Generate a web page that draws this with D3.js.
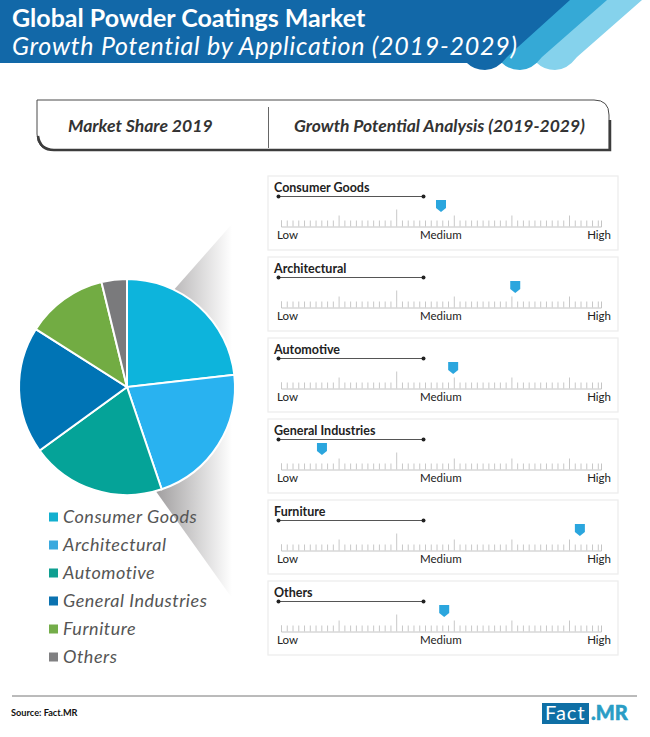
<!DOCTYPE html>
<html>
<head>
<meta charset="utf-8">
<script src="https://cdn.jsdelivr.net/npm/d3@7"></script>
<style>
    html, body { margin: 0; padding: 0; background: #fff; }
    svg { display: block; font-family: Lato, sans-serif; }
</style>
</head>
<body>
<div id="svgcontainer"></div>
<script>
let segments = [
    {name: "Consumer Goods", share: 23.2, growth: 50, color: "#0db4dc", swatch: "#12afcf"},
    {name: "Architectural", share: 21.6, growth: 73.2, color: "#29b2f0", swatch: "#3aa9de"},
    {name: "Automotive", share: 20.2, growth: 53.8, color: "#05a398", swatch: "#0f9f91"},
    {name: "General Industries", share: 19, growth: 12.8, color: "#0074b5", swatch: "#0b72b0"},
    {name: "Furniture", share: 12.2, growth: 93.4, color: "#72ac43", swatch: "#74ad4a"},
    {name: "Others", share: 3.8, growth: 51, color: "#7a7a7c", swatch: "#808082"}
];

let svg = d3.select("#svgcontainer")
    .append("svg")
    .attr("width", 650)
    .attr("height", 737);

let defs = svg.append("defs");
let addFade = (id, x1, x2, start) => {
    let grad = defs.append("linearGradient")
        .attr("id", id)
        .attr("gradientUnits", "userSpaceOnUse")
        .attr("x1", x1).attr("x2", x2)
        .attr("y1", 0).attr("y2", 0);
    grad.append("stop").attr("offset", 0).attr("stop-color", start);
    grad.append("stop").attr("offset", 1).attr("stop-color", "#ffffff");
}
addFade("fadeTop", 172, 232, "#b9b7b8");
addFade("fadeBottom", 158, 232, "#a3a1a2");

// header bands, back to front
let bandPath = (top, lobe) => `M0,0 L${top},0 L${lobe + 19},57 Q${lobe + 9},70 ${lobe - 3},70 Q${lobe - 14},70 ${lobe - 21},63 L0,63 Z`;
svg.append("path").attr("d", bandPath(642, 558)).attr("fill", "#85d2ec");
svg.append("path").attr("d", bandPath(607, 523)).attr("fill", "#35a9d6");
svg.append("path").attr("d", bandPath(570, 488)).attr("fill", "#1268a8");

svg.append("text")
    .attr("x", 12).attr("y", 27)
    .attr("font-size", 25).attr("font-weight", 700)
    .attr("fill", "#fff")
    .text("Global Powder Coatings Market");
svg.append("text")
    .attr("x", 12).attr("y", 55)
    .attr("font-size", 25).attr("font-style", "italic")
    .attr("letter-spacing", 0.74)
    .attr("fill", "#fff")
    .text("Growth Potential by Application (2019-2029)");

// heading box
svg.append("path")
    .attr("d", "M37,100 H594 Q609,100 609,115 V150 H53 Q37,150 37,134 Z")
    .attr("fill", "#fff")
    .attr("stroke", "#4a4a4a")
    .attr("stroke-width", 1);
svg.append("path")
    .attr("d", "M38,136 Q40,150 54,150 H610 V120")
    .attr("fill", "none")
    .attr("stroke", "#3c3c3c")
    .attr("stroke-width", 2.5);
svg.append("line")
    .attr("x1", 268.5).attr("x2", 268.5)
    .attr("y1", 107).attr("y2", 148)
    .attr("stroke", "#666");
svg.append("text")
    .attr("x", 68).attr("y", 132)
    .attr("font-size", 17.6).attr("font-weight", 700).attr("font-style", "italic")
    .attr("fill", "#333")
    .text("Market Share 2019");
svg.append("text")
    .attr("x", 294).attr("y", 132)
    .attr("font-size", 17.5).attr("font-weight", 700).attr("font-style", "italic")
    .attr("fill", "#333")
    .text("Growth Potential Analysis (2019-2029)");

// pie
let center = {x: 127, y: 387};
let radius = 108;

svg.append("path")
    .attr("d", "M172,292 L232,224 V380 H172 Z")
    .attr("fill", "url(#fadeTop)");
svg.append("path")
    .attr("d", "M155,490 L232,598 V400 H155 Z")
    .attr("fill", "url(#fadeBottom)");

let pie = d3.pie().sort(null).value(d => d.share);
let arc = d3.arc().innerRadius(0).outerRadius(radius);

svg.append("g")
    .attr("transform", `translate(${center.x},${center.y})`)
    .selectAll("path")
    .data(pie(segments))
    .enter()
    .append("path")
    .attr("d", arc)
    .style("fill", d => d.data.color)
    .style("stroke", "#fff")
    .style("stroke-width", 2);

// legend
let legendY = d3.scalePoint()
    .domain(segments.map(d => d.name))
    .range([517, 657]);

let legend = svg.append("g")
    .selectAll("g")
    .data(segments)
    .enter()
    .append("g")
    .attr("transform", d => `translate(0,${legendY(d.name)})`);
legend.append("rect")
    .attr("x", 49).attr("y", -4.5)
    .attr("width", 9).attr("height", 9)
    .attr("fill", d => d.swatch);
legend.append("text")
    .attr("x", 63).attr("y", 6)
    .attr("font-size", 18).attr("font-style", "italic")
    .attr("letter-spacing", 0.52)
    .attr("fill", "#555")
    .text(d => d.name);

// growth panels
let panelY = d3.scalePoint()
    .domain(segments.map(d => d.name))
    .range([176, 581]);
let x = d3.scaleLinear().domain([0, 100]).range([281, 601]);
let step = 1.8;
let tickValues = d3.range(0, 100, step);

let panels = svg.append("g")
    .selectAll("g")
    .data(segments)
    .enter()
    .append("g")
    .attr("transform", d => `translate(0,${panelY(d.name)})`);

panels.append("rect")
    .attr("x", 268).attr("y", 0)
    .attr("width", 350).attr("height", 74)
    .attr("fill", "#fff")
    .attr("stroke", "#ececec")
    .attr("stroke-width", 1.2);

panels.append("text")
    .attr("x", 274).attr("y", 16)
    .attr("font-size", 12.5).attr("font-weight", 700)
    .attr("fill", "#222")
    .text(d => d.name);

panels.append("line")
    .attr("x1", 278.5).attr("x2", 423.5)
    .attr("y1", 20.5).attr("y2", 20.5)
    .attr("stroke", "#555");
panels.selectAll("circle.end")
    .data([278.5, 423.5])
    .enter()
    .append("circle")
    .attr("class", "end")
    .attr("cx", d => d).attr("cy", 20.5).attr("r", 2)
    .attr("fill", "#222");

panels.each(function() {
    let axis = d3.axisTop(x)
        .tickValues(tickValues)
        .tickSize(6)
        .tickFormat("");
    let g = d3.select(this).append("g")
        .attr("transform", "translate(0,50.5)")
        .call(axis);
    g.select(".domain").attr("stroke", "#c4c4c4");
    g.selectAll(".tick line")
        .attr("stroke", "#c8c8c8")
        .attr("y2", (d, i) => {
            if(i == 20) return -17;
            if(i > 0 && i % 10 == 0) return -11;
            return -6;
        });
});

panels.append("path")
    .attr("d", d => {
        let cx = x(d.growth);
        return `M${cx - 5},24 H${cx + 5} V32 L${cx},36 L${cx - 5},32 Z`;
    })
    .attr("fill", "#2ba6de");

let labels = [["Low", 277, "start"], ["Medium", 420, "start"], ["High", 611, "end"]];
panels.selectAll("text.scale")
    .data(labels)
    .enter()
    .append("text")
    .attr("class", "scale")
    .attr("x", d => d[1]).attr("y", 63)
    .attr("text-anchor", d => d[2])
    .attr("font-size", 11.5)
    .attr("fill", "#222")
    .text(d => d[0]);

// footer
svg.append("line")
    .attr("x1", 12).attr("x2", 637)
    .attr("y1", 696).attr("y2", 696)
    .attr("stroke", "#777");
svg.append("text")
    .attr("x", 11).attr("y", 716)
    .attr("font-size", 9.2).attr("font-weight", 700)
    .attr("fill", "#111")
    .text("Source: Fact.MR");
svg.append("rect")
    .attr("x", 542).attr("y", 703)
    .attr("width", 47).attr("height", 21)
    .attr("fill", "#0f6fa5");
svg.append("text")
    .attr("x", 545).attr("y", 720)
    .attr("font-size", 20).attr("letter-spacing", 1)
    .attr("fill", "#fff")
    .text("Fact");
svg.append("text")
    .attr("x", 591).attr("y", 720)
    .attr("font-size", 20).attr("font-weight", 900)
    .attr("stroke", "#2a9dc5").attr("stroke-width", 0.5)
    .attr("fill", "#2a9dc5")
    .text(".MR");
</script>
</body>
</html>
